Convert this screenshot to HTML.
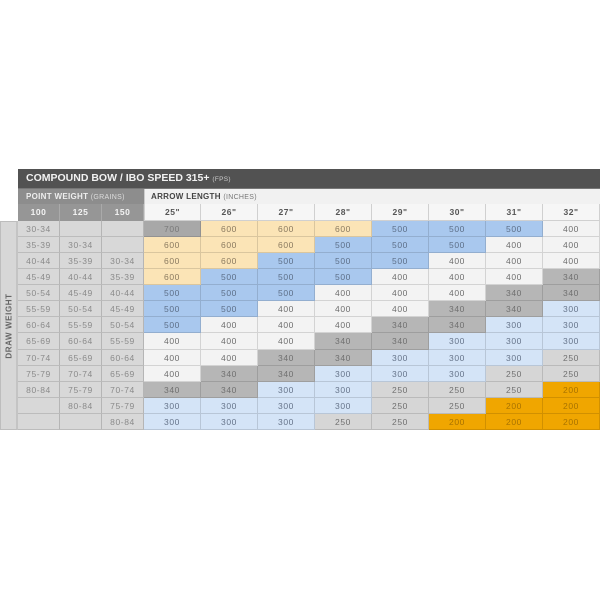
<!DOCTYPE html>
<html><head><meta charset="utf-8">
<style>
*{margin:0;padding:0;box-sizing:border-box}
html,body{width:600px;height:600px;background:#fff;overflow:hidden;font-family:"Liberation Sans",sans-serif}
.title{position:absolute;left:18px;top:169px;width:582px;height:20px;background:#525252;border-bottom:1px solid #777;color:#f2f2f2;font-weight:bold;font-size:10.5px;line-height:19px;padding-left:8px;letter-spacing:0}
.title small{font-size:6.5px;color:#ccc;font-weight:normal;letter-spacing:0.3px}
.pw{position:absolute;left:18px;top:189px;width:126px;height:15px;background:#8d8d8d;color:#eee;font-weight:bold;font-size:8px;line-height:15px;padding-left:8px;letter-spacing:0.3px}
.pw small{font-size:7px;font-weight:normal;color:#ddd}
.al{position:absolute;left:144px;top:189px;width:456px;height:15px;background:#f1f1f1;color:#444;font-weight:bold;font-size:8px;line-height:15px;padding-left:6px;letter-spacing:0.3px;border-left:1px solid #ccc}
.al small{font-size:7px;font-weight:normal;color:#777}
.hdr{position:absolute;top:204px;height:17px;font-size:8.5px;font-weight:bold;line-height:17px;text-align:center;letter-spacing:0.5px}
.hp{background:#969696;color:#f4f4f4;border-right:1px solid #aaa;width:42px}
.ha{background:#f6f6f6;color:#555;border-right:1px solid #d0d0d0;border-bottom:1px solid #d0d0d0;width:57px}
.dw{position:absolute;left:0;top:221px;width:18px;height:209px;background:#d7d7d7;border:1px solid #bdbdbd;border-right:2px solid #c4c4c4}
.dw span{position:absolute;left:50%;top:50%;transform:translate(-50%,-50%) rotate(-90deg);white-space:nowrap;font-size:8px;font-weight:bold;color:#666;letter-spacing:0.6px}
.grid{position:absolute;left:18px;top:221px;display:grid;grid-template-columns:42px 42px 42px repeat(8,57px);grid-template-rows:repeat(13,16.077px);width:582px}
.grid div{font-size:8.5px;text-align:center;line-height:16px;letter-spacing:0.6px;color:#6b6b6b;border-right:1px solid rgba(0,0,0,0.13);border-bottom:1px solid rgba(0,0,0,0.13)}
.grid .p{background:#d8d8d8;color:#8a8a8a;border-right:1px solid #b5b5b5;border-bottom:1px solid #bcbcbc}
.grid .a{background:#a8a8a8;color:#7a7a7a}
.grid .t{background:#fbe4b6;color:#8a7a60}
.grid .b{background:#a9c8ee;color:#5d6f88}
.grid .w{background:#f3f3f3;color:#6e6e6e}
.grid .g{background:#b6b6b6;color:#707070}
.grid .l{background:#d4e4f7;color:#66748a}
.grid .m{background:#d6d6d6;color:#707070}
.grid .o{background:#f0a600;color:#a87300}
</style></head><body>
<div class="title">COMPOUND BOW / IBO SPEED 315+ <small>(FPS)</small></div>
<div class="pw">POINT WEIGHT <small>(GRAINS)</small></div>
<div class="al">ARROW LENGTH <small>(INCHES)</small></div>
<div class="hdr hp" style="left:18px">100</div>
<div class="hdr hp" style="left:60px">125</div>
<div class="hdr hp" style="left:102px">150</div>
<div class="hdr ha" style="left:144px;border-left:1px solid #d0d0d0">25"</div>
<div class="hdr ha" style="left:201px">26"</div>
<div class="hdr ha" style="left:258px">27"</div>
<div class="hdr ha" style="left:315px">28"</div>
<div class="hdr ha" style="left:372px">29"</div>
<div class="hdr ha" style="left:429px">30"</div>
<div class="hdr ha" style="left:486px">31"</div>
<div class="hdr ha" style="left:543px">32"</div>
<div class="dw"><span>DRAW WEIGHT</span></div>
<div class="grid">
<div class="p">30-34</div><div class="p"></div><div class="p"></div>
<div class="a">700</div><div class="t">600</div><div class="t">600</div><div class="t">600</div><div class="b">500</div><div class="b">500</div><div class="b">500</div><div class="w">400</div>

<div class="p">35-39</div><div class="p">30-34</div><div class="p"></div>
<div class="t">600</div><div class="t">600</div><div class="t">600</div><div class="b">500</div><div class="b">500</div><div class="b">500</div><div class="w">400</div><div class="w">400</div>

<div class="p">40-44</div><div class="p">35-39</div><div class="p">30-34</div>
<div class="t">600</div><div class="t">600</div><div class="b">500</div><div class="b">500</div><div class="b">500</div><div class="w">400</div><div class="w">400</div><div class="w">400</div>

<div class="p">45-49</div><div class="p">40-44</div><div class="p">35-39</div>
<div class="t">600</div><div class="b">500</div><div class="b">500</div><div class="b">500</div><div class="w">400</div><div class="w">400</div><div class="w">400</div><div class="g">340</div>

<div class="p">50-54</div><div class="p">45-49</div><div class="p">40-44</div>
<div class="b">500</div><div class="b">500</div><div class="b">500</div><div class="w">400</div><div class="w">400</div><div class="w">400</div><div class="g">340</div><div class="g">340</div>

<div class="p">55-59</div><div class="p">50-54</div><div class="p">45-49</div>
<div class="b">500</div><div class="b">500</div><div class="w">400</div><div class="w">400</div><div class="w">400</div><div class="g">340</div><div class="g">340</div><div class="l">300</div>

<div class="p">60-64</div><div class="p">55-59</div><div class="p">50-54</div>
<div class="b">500</div><div class="w">400</div><div class="w">400</div><div class="w">400</div><div class="g">340</div><div class="g">340</div><div class="l">300</div><div class="l">300</div>

<div class="p">65-69</div><div class="p">60-64</div><div class="p">55-59</div>
<div class="w">400</div><div class="w">400</div><div class="w">400</div><div class="g">340</div><div class="g">340</div><div class="l">300</div><div class="l">300</div><div class="l">300</div>

<div class="p">70-74</div><div class="p">65-69</div><div class="p">60-64</div>
<div class="w">400</div><div class="w">400</div><div class="g">340</div><div class="g">340</div><div class="l">300</div><div class="l">300</div><div class="l">300</div><div class="m">250</div>

<div class="p">75-79</div><div class="p">70-74</div><div class="p">65-69</div>
<div class="w">400</div><div class="g">340</div><div class="g">340</div><div class="l">300</div><div class="l">300</div><div class="l">300</div><div class="m">250</div><div class="m">250</div>

<div class="p">80-84</div><div class="p">75-79</div><div class="p">70-74</div>
<div class="g">340</div><div class="g">340</div><div class="l">300</div><div class="l">300</div><div class="m">250</div><div class="m">250</div><div class="m">250</div><div class="o">200</div>

<div class="p"></div><div class="p">80-84</div><div class="p">75-79</div>
<div class="l">300</div><div class="l">300</div><div class="l">300</div><div class="l">300</div><div class="m">250</div><div class="m">250</div><div class="o">200</div><div class="o">200</div>

<div class="p"></div><div class="p"></div><div class="p">80-84</div>
<div class="l">300</div><div class="l">300</div><div class="l">300</div><div class="m">250</div><div class="m">250</div><div class="o">200</div><div class="o">200</div><div class="o">200</div>
</div>
</body></html>
